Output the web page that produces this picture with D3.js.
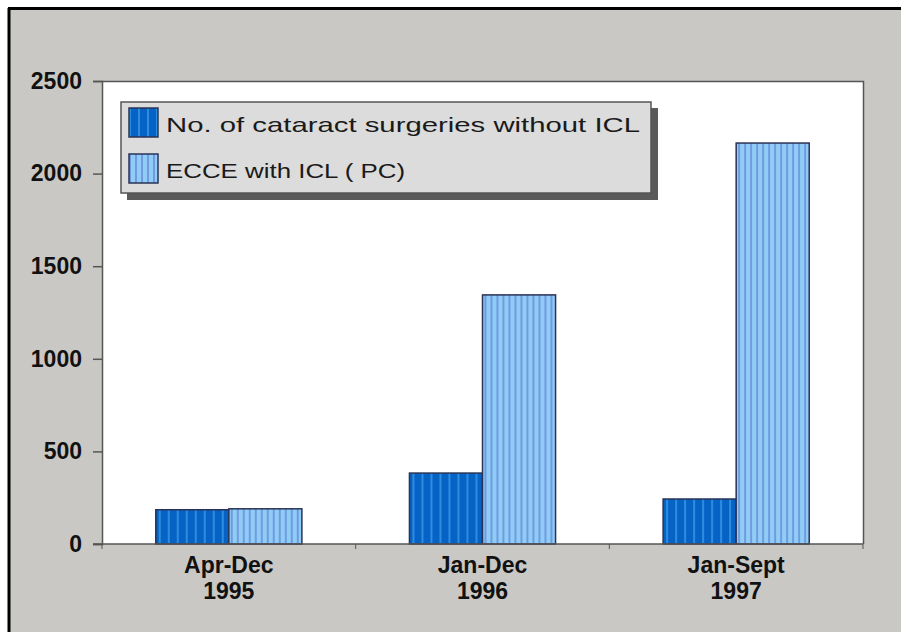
<!DOCTYPE html>
<html>
<head>
    <meta charset="utf-8" />
    <title>Cataract surgeries</title>
    <script src="https://cdn.jsdelivr.net/npm/d3@7"></script>
    <style>
        html, body { margin: 0; padding: 0; background: #fff; }
        svg { display: block; }
    </style>
</head>
<body>
<script>
    // data
    var periods = [['Apr-Dec', '1995'], ['Jan-Dec', '1996'], ['Jan-Sept', '1997']];
    var series = ['No. of cataract surgeries without ICL', 'ECCE with ICL ( PC)'];
    var withoutICL = [185, 383, 243];
    var withICL = [190, 1345, 2165];
    var yTicks = [0, 500, 1000, 1500, 2000, 2500];

    var width = 901, height = 632;
    var svg = d3.select('body').append('svg').attr('width', width).attr('height', height);

    // stripe patterns for the bars
    var defs = svg.append('defs');
    var pats = [
        {id: 'p0', base: '#0762c6', stripe: '#2a8ede', step: 9, w: 2},
        {id: 'p1', base: '#90ccf6', stripe: '#6f9ce0', step: 6, w: 2}
    ];
    pats.forEach(function(p) {
        var pt = defs.append('pattern').attr('id', p.id).attr('patternUnits', 'userSpaceOnUse')
            .attr('width', p.step).attr('height', 10);
        pt.append('rect').attr('width', p.step).attr('height', 10).attr('fill', p.base);
        pt.append('rect').attr('x', 3).attr('width', p.w).attr('height', 10).attr('fill', p.stripe);
    });

    // outer frame
    svg.append('rect').attr('x', 8).attr('y', 8).attr('width', width - 8).attr('height', height - 8).attr('fill', '#c9c8c4');
    svg.append('line').attr('x1', 8).attr('x2', width).attr('y1', 8.5).attr('y2', 8.5).attr('stroke', '#000').attr('stroke-width', 3);
    svg.append('line').attr('x1', 9).attr('x2', 9).attr('y1', 8).attr('y2', height).attr('stroke', '#000').attr('stroke-width', 3);

    var pLeft = 102, pRight = 863, pTop = 81, pBottom = 544;

    var x = d3.scaleBand().domain(d3.range(periods.length)).range([pLeft, pRight])
        .paddingInner(0.424).paddingOuter(0.212);
    var xs = d3.scaleBand().domain([0, 1]).range([0, x.bandwidth()]);
    var y = d3.scaleLinear().domain([0, 2500]).range([pBottom, pTop]);

    // plot area
    svg.append('rect').attr('x', pLeft).attr('y', pTop).attr('width', pRight - pLeft).attr('height', pBottom - pTop).attr('fill', '#fff');
    svg.append('path').attr('d', 'M' + pLeft + ',' + (pTop + 0.5) + 'H' + (pRight + 0.5) + 'V' + pBottom)
        .attr('fill', 'none').attr('stroke', '#555').attr('stroke-width', 1.5);

    // bars
    var rows = periods.map(function(p, i) { return [withoutICL[i], withICL[i]]; });
    var g = svg.selectAll('.grp').data(rows).enter().append('g')
        .attr('transform', function(d, i) { return 'translate(' + x(i) + ',0)'; });
    g.selectAll('rect').data(function(d) { return d; }).enter().append('rect')
        .attr('x', function(d, j) { return xs(j); })
        .attr('y', function(d) { return y(d); })
        .attr('width', xs.bandwidth())
        .attr('height', function(d) { return y(0) - y(d); })
        .attr('fill', function(d, j) { return 'url(#p' + j + ')'; })
        .attr('stroke', '#2a3355').attr('stroke-width', 1.5);

    // axes
    var yAxis = d3.axisLeft(y).tickValues(yTicks).tickSize(9).tickPadding(11).tickFormat(d3.format('d'));
    var ya = svg.append('g').attr('transform', 'translate(' + pLeft + ',0)').call(yAxis);
    ya.select('.domain').attr('stroke', '#555').attr('stroke-width', 1.5);
    ya.selectAll('.tick line').attr('stroke', '#555').attr('stroke-width', 1.5);
    ya.selectAll('text').attr('fill', '#111')
        .style('font-family', '"Liberation Sans Narrow", "Liberation Sans", sans-serif')
        .style('font-weight', 'bold').style('font-size', '23px');

    svg.append('line').attr('x1', pLeft - 9).attr('x2', pRight).attr('y1', pBottom).attr('y2', pBottom)
        .attr('stroke', '#555').attr('stroke-width', 1.5);
    var bounds = d3.range(periods.length + 1).map(function(i) { return pLeft + i * x.step(); });
    svg.selectAll('.xt').data(bounds).enter().append('line')
        .attr('x1', function(d) { return d; }).attr('x2', function(d) { return d; })
        .attr('y1', pBottom).attr('y2', pBottom + 5).attr('stroke', '#555');

    // category labels
    var lab = svg.selectAll('.cat').data(periods).enter().append('text')
        .attr('x', function(d, i) { return x(i) + x.bandwidth() / 2; })
        .attr('y', 573)
        .attr('text-anchor', 'middle').attr('fill', '#111')
        .style('font-family', '"Liberation Sans Narrow", "Liberation Sans", sans-serif')
        .style('font-weight', 'bold').style('font-size', '23px');
    lab.selectAll('tspan').data(function(d) { return d; }).enter().append('tspan')
        .attr('x', function() { return this.parentNode.getAttribute('x'); })
        .attr('dy', function(d, k) { return k ? 26 : 0; })
        .text(function(d) { return d; });

    // legend
    var lg = svg.append('g');
    lg.append('rect').attr('x', 127).attr('y', 108).attr('width', 531).attr('height', 92).attr('fill', '#5a5a5a');
    lg.append('rect').attr('x', 121).attr('y', 102).attr('width', 530).attr('height', 91)
        .attr('fill', '#dcdcdc').attr('stroke', '#555').attr('stroke-width', 1.5);
    var widths = [474, 239];
    series.forEach(function(s, j) {
        var yy = 108 + j * 46;
        lg.append('rect').attr('x', 129).attr('y', yy).attr('width', 29).attr('height', 29)
            .attr('fill', 'url(#p' + j + ')').attr('stroke', '#2a3355').attr('stroke-width', 1.5);
        lg.append('text').attr('x', 166).attr('y', yy + 24).attr('fill', '#1a1a1a')
            .attr('textLength', widths[j]).attr('lengthAdjust', 'spacingAndGlyphs')
            .style('font-family', '"Liberation Sans", Arial, sans-serif').style('font-size', '21px')
            .text(s);
    });
</script>
</body>
</html>
